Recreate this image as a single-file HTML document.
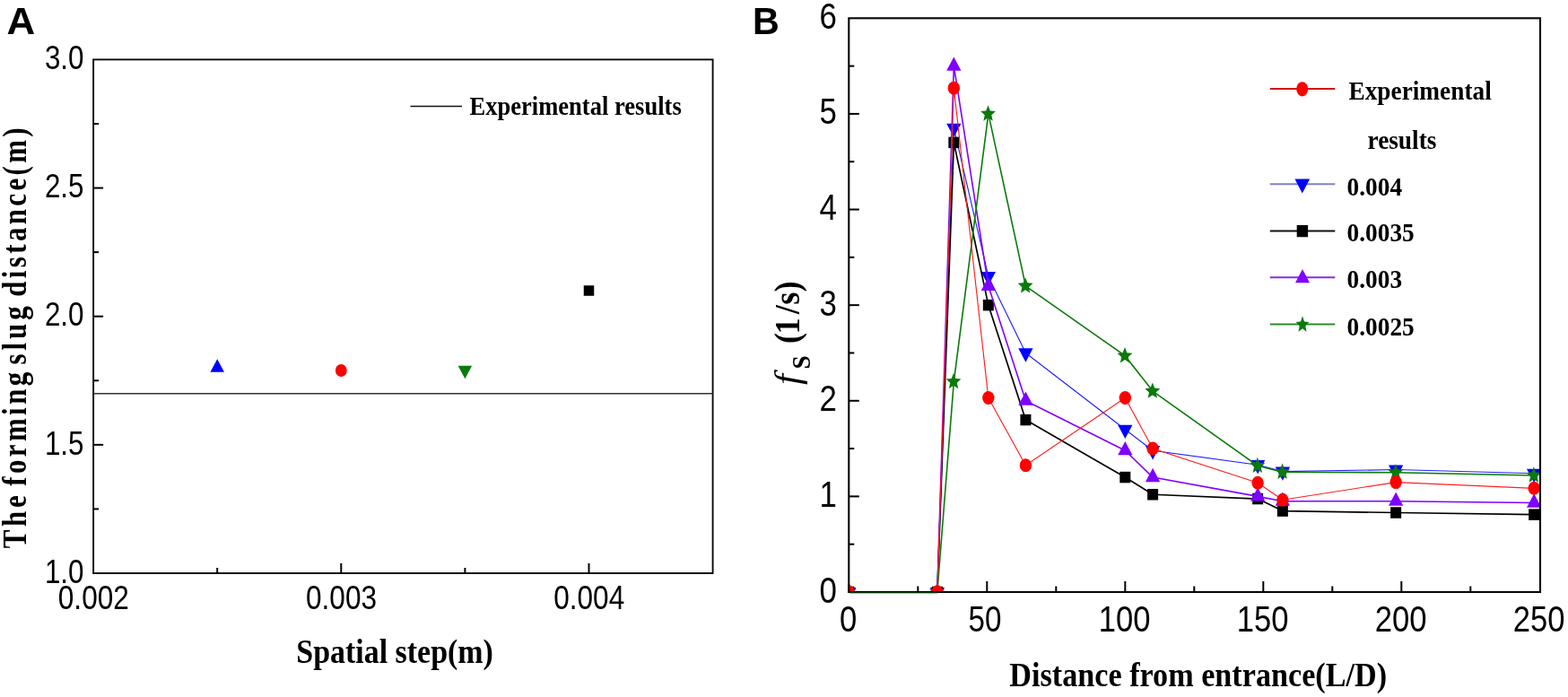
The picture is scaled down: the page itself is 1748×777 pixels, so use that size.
<!DOCTYPE html>
<html lang="en"><head><meta charset="utf-8"><title>Figure</title>
<style>html,body{margin:0;padding:0;background:#fff;overflow:hidden}svg{display:block}</style>
</head><body>
<svg width="1748" height="777" viewBox="0 0 1748 777">
<rect width="1748" height="777" fill="#fff"/>
<rect x="104.1" y="66.4" width="690.50" height="572.60" fill="none" stroke="#0a0a0a" stroke-width="1.9"/>
<text transform="translate(93.50,649.70) scale(0.8550,1)" font-family='"Liberation Sans", Arial, sans-serif' font-size="36.7" font-weight="normal" font-style="normal" text-anchor="end" fill="#000" >1.0</text>
<line x1="104.10" y1="567.42" x2="110.10" y2="567.42" stroke="#000" stroke-width="2" stroke-linecap="butt"/>
<line x1="104.10" y1="495.85" x2="115.10" y2="495.85" stroke="#000" stroke-width="2" stroke-linecap="butt"/>
<text transform="translate(93.50,506.55) scale(0.8550,1)" font-family='"Liberation Sans", Arial, sans-serif' font-size="36.7" font-weight="normal" font-style="normal" text-anchor="end" fill="#000" >1.5</text>
<line x1="104.10" y1="424.27" x2="110.10" y2="424.27" stroke="#000" stroke-width="2" stroke-linecap="butt"/>
<line x1="104.10" y1="352.70" x2="115.10" y2="352.70" stroke="#000" stroke-width="2" stroke-linecap="butt"/>
<text transform="translate(93.50,363.40) scale(0.8550,1)" font-family='"Liberation Sans", Arial, sans-serif' font-size="36.7" font-weight="normal" font-style="normal" text-anchor="end" fill="#000" >2.0</text>
<line x1="104.10" y1="281.12" x2="110.10" y2="281.12" stroke="#000" stroke-width="2" stroke-linecap="butt"/>
<line x1="104.10" y1="209.55" x2="115.10" y2="209.55" stroke="#000" stroke-width="2" stroke-linecap="butt"/>
<text transform="translate(93.50,220.25) scale(0.8550,1)" font-family='"Liberation Sans", Arial, sans-serif' font-size="36.7" font-weight="normal" font-style="normal" text-anchor="end" fill="#000" >2.5</text>
<line x1="104.10" y1="137.97" x2="110.10" y2="137.97" stroke="#000" stroke-width="2" stroke-linecap="butt"/>
<text transform="translate(93.50,77.10) scale(0.8550,1)" font-family='"Liberation Sans", Arial, sans-serif' font-size="36.7" font-weight="normal" font-style="normal" text-anchor="end" fill="#000" >3.0</text>
<line x1="242.20" y1="639.00" x2="242.20" y2="633.00" stroke="#000" stroke-width="2" stroke-linecap="butt"/>
<line x1="380.30" y1="639.00" x2="380.30" y2="628.00" stroke="#000" stroke-width="2" stroke-linecap="butt"/>
<line x1="518.40" y1="639.00" x2="518.40" y2="633.00" stroke="#000" stroke-width="2" stroke-linecap="butt"/>
<line x1="656.50" y1="639.00" x2="656.50" y2="628.00" stroke="#000" stroke-width="2" stroke-linecap="butt"/>
<text transform="translate(104.30,678.60) scale(0.8600,1)" font-family='"Liberation Sans", Arial, sans-serif' font-size="36.7" font-weight="normal" font-style="normal" text-anchor="middle" fill="#000" >0.002</text>
<text transform="translate(380.50,678.60) scale(0.8600,1)" font-family='"Liberation Sans", Arial, sans-serif' font-size="36.7" font-weight="normal" font-style="normal" text-anchor="middle" fill="#000" >0.003</text>
<text transform="translate(656.70,678.60) scale(0.8600,1)" font-family='"Liberation Sans", Arial, sans-serif' font-size="36.7" font-weight="normal" font-style="normal" text-anchor="middle" fill="#000" >0.004</text>
<line x1="104.10" y1="438.70" x2="794.60" y2="438.70" stroke="#333" stroke-width="1.6" stroke-linecap="butt"/>
<polygon points="242.20,400.33 249.95,414.83 234.45,414.83" fill="#0000ff"/>
<ellipse cx="380.30" cy="413.00" rx="6.4" ry="6.9" fill="#ff0000"/>
<polygon points="518.40,422.27 526.15,407.77 510.65,407.77" fill="#0a7a0a"/>
<rect x="650.75" y="318.25" width="11.5" height="11.5" fill="#000000"/>
<line x1="457.50" y1="118.50" x2="515.00" y2="118.50" stroke="#111" stroke-width="1.5" stroke-linecap="butt"/>
<text transform="translate(523.50,128.30) scale(0.9160,1)" font-family='"Liberation Serif", "Times New Roman", serif' font-size="29" font-weight="bold" font-style="normal" text-anchor="start" fill="#000" >Experimental results</text>
<text transform="translate(7.60,38.00) scale(1.0130,1)" font-family='"Liberation Sans", Arial, sans-serif' font-size="43.3" font-weight="bold" font-style="normal" text-anchor="start" fill="#000" >A</text>
<text transform="translate(330.30,738.90) scale(0.8930,1)" font-family='"Liberation Serif", "Times New Roman", serif' font-size="38" font-weight="bold" font-style="normal" text-anchor="start" fill="#000" >Spatial step(m)</text>
<text transform="translate(29.30,611.20) rotate(-90) scale(0.8240,1.0000)" font-family='"Liberation Serif", "Times New Roman", serif' font-size="37.5" font-weight="bold" text-anchor="start" fill="#000" textLength="71.48" lengthAdjust="spacing">The</text>
<text transform="translate(29.30,541.80) rotate(-90) scale(0.8240,1.0000)" font-family='"Liberation Serif", "Times New Roman", serif' font-size="37.5" font-weight="bold" text-anchor="start" fill="#000" textLength="154.13" lengthAdjust="spacing">forming</text>
<text transform="translate(29.30,406.40) rotate(-90) scale(0.8240,1.0000)" font-family='"Liberation Serif", "Times New Roman", serif' font-size="37.5" font-weight="bold" text-anchor="start" fill="#000" textLength="79.00" lengthAdjust="spacing">slug</text>
<text transform="translate(29.30,330.70) rotate(-90) scale(0.8240,1.0000)" font-family='"Liberation Serif", "Times New Roman", serif' font-size="37.5" font-weight="bold" text-anchor="start" fill="#000" textLength="228.52" lengthAdjust="spacing">distance(m)</text>
<clipPath id="cb"><rect x="945.3" y="20.3" width="772.7" height="640.7"/></clipPath>
<g clip-path="url(#cb)">
<polyline points="946.30,660.00 1044.86,660.00 1063.34,142.91 1101.84,308.16 1143.42,393.46 1254.30,478.75 1285.10,502.21 1402.14,518.20 1429.86,525.66 1556.14,523.53 1710.14,527.80" fill="none" stroke="#2020ff" stroke-width="1.15" stroke-linejoin="round"/>
<polygon points="946.30,670.20 954.45,654.90 938.15,654.90" fill="#0000ff"/>
<polygon points="1044.86,670.20 1053.01,654.90 1036.71,654.90" fill="#0000ff"/>
<polygon points="1063.34,153.11 1071.49,137.81 1055.19,137.81" fill="#0000ff"/>
<polygon points="1101.84,318.36 1109.99,303.06 1093.69,303.06" fill="#0000ff"/>
<polygon points="1143.42,403.66 1151.57,388.36 1135.27,388.36" fill="#0000ff"/>
<polygon points="1254.30,488.95 1262.45,473.65 1246.15,473.65" fill="#0000ff"/>
<polygon points="1285.10,512.41 1293.25,497.11 1276.95,497.11" fill="#0000ff"/>
<polygon points="1402.14,528.40 1410.29,513.10 1393.99,513.10" fill="#0000ff"/>
<polygon points="1429.86,535.86 1438.01,520.56 1421.71,520.56" fill="#0000ff"/>
<polygon points="1556.14,533.73 1564.29,518.43 1547.99,518.43" fill="#0000ff"/>
<polygon points="1710.14,538.00 1718.29,522.70 1701.99,522.70" fill="#0000ff"/>
<polyline points="946.30,660.00 1044.86,660.00 1063.34,158.90 1101.84,340.15 1143.42,468.09 1254.30,532.06 1285.10,551.25 1402.14,556.05 1429.86,569.59 1556.14,571.51 1710.14,573.64" fill="none" stroke="#000000" stroke-width="1.7" stroke-linejoin="round"/>
<rect x="940.30" y="653.75" width="12" height="12.5" fill="#000000"/>
<rect x="1038.86" y="653.75" width="12" height="12.5" fill="#000000"/>
<rect x="1057.34" y="152.65" width="12" height="12.5" fill="#000000"/>
<rect x="1095.84" y="333.90" width="12" height="12.5" fill="#000000"/>
<rect x="1137.42" y="461.84" width="12" height="12.5" fill="#000000"/>
<rect x="1248.30" y="525.81" width="12" height="12.5" fill="#000000"/>
<rect x="1279.10" y="545.00" width="12" height="12.5" fill="#000000"/>
<rect x="1396.14" y="549.80" width="12" height="12.5" fill="#000000"/>
<rect x="1423.86" y="563.34" width="12" height="12.5" fill="#000000"/>
<rect x="1550.14" y="565.26" width="12" height="12.5" fill="#000000"/>
<rect x="1704.14" y="567.39" width="12" height="12.5" fill="#000000"/>
<polyline points="946.30,660.00 1044.86,660.00 1063.34,73.61 1101.84,318.83 1143.42,446.77 1254.30,502.21 1285.10,532.06 1402.14,553.38 1429.86,558.71 1556.14,558.71 1710.14,560.53" fill="none" stroke="#7f00ff" stroke-width="1.6" stroke-linejoin="round"/>
<polygon points="946.30,649.80 954.45,665.10 938.15,665.10" fill="#7f00ff"/>
<polygon points="1044.86,649.80 1053.01,665.10 1036.71,665.10" fill="#7f00ff"/>
<polygon points="1063.34,63.41 1071.49,78.71 1055.19,78.71" fill="#7f00ff"/>
<polygon points="1101.84,308.63 1109.99,323.93 1093.69,323.93" fill="#7f00ff"/>
<polygon points="1143.42,436.57 1151.57,451.87 1135.27,451.87" fill="#7f00ff"/>
<polygon points="1254.30,492.01 1262.45,507.31 1246.15,507.31" fill="#7f00ff"/>
<polygon points="1285.10,521.86 1293.25,537.16 1276.95,537.16" fill="#7f00ff"/>
<polygon points="1402.14,543.18 1410.29,558.48 1393.99,558.48" fill="#7f00ff"/>
<polygon points="1429.86,548.51 1438.01,563.81 1421.71,563.81" fill="#7f00ff"/>
<polygon points="1556.14,548.51 1564.29,563.81 1547.99,563.81" fill="#7f00ff"/>
<polygon points="1710.14,550.33 1718.29,565.63 1701.99,565.63" fill="#7f00ff"/>
<polyline points="946.30,660.00 1044.86,660.00 1063.34,425.44 1101.84,126.92 1143.42,318.83 1254.30,396.66 1285.10,436.11 1402.14,519.27 1429.86,526.20 1556.14,526.73 1710.14,529.93" fill="none" stroke="#0a7a0a" stroke-width="1.6" stroke-linejoin="round"/>
<polygon points="946.00,650.40 948.34,656.51 954.40,657.03 949.78,661.33 951.19,667.77 946.00,664.32 940.81,667.77 942.22,661.33 937.60,657.03 943.66,656.51" fill="#0a7a0a"/>
<polygon points="1044.56,650.40 1046.90,656.51 1052.96,657.03 1048.34,661.33 1049.75,667.77 1044.56,664.32 1039.37,667.77 1040.78,661.33 1036.16,657.03 1042.22,656.51" fill="#0a7a0a"/>
<polygon points="1063.04,415.84 1065.38,421.95 1071.44,422.48 1066.82,426.78 1068.23,433.21 1063.04,429.76 1057.85,433.21 1059.26,426.78 1054.64,422.48 1060.70,421.95" fill="#0a7a0a"/>
<polygon points="1101.54,117.32 1103.88,123.42 1109.94,123.95 1105.32,128.25 1106.73,134.68 1101.54,131.24 1096.35,134.68 1097.76,128.25 1093.14,123.95 1099.20,123.42" fill="#0a7a0a"/>
<polygon points="1143.12,309.23 1145.46,315.33 1151.52,315.86 1146.90,320.16 1148.31,326.59 1143.12,323.15 1137.93,326.59 1139.34,320.16 1134.72,315.86 1140.78,315.33" fill="#0a7a0a"/>
<polygon points="1254.00,387.06 1256.34,393.16 1262.40,393.69 1257.78,397.99 1259.19,404.42 1254.00,400.98 1248.81,404.42 1250.22,397.99 1245.60,393.69 1251.66,393.16" fill="#0a7a0a"/>
<polygon points="1284.80,426.50 1287.14,432.61 1293.20,433.14 1288.58,437.44 1289.99,443.87 1284.80,440.43 1279.61,443.87 1281.02,437.44 1276.40,433.14 1282.46,432.61" fill="#0a7a0a"/>
<polygon points="1401.84,509.67 1404.18,515.77 1410.24,516.30 1405.62,520.60 1407.03,527.03 1401.84,523.59 1396.65,527.03 1398.06,520.60 1393.44,516.30 1399.50,515.77" fill="#0a7a0a"/>
<polygon points="1429.56,516.60 1431.90,522.70 1437.96,523.23 1433.34,527.53 1434.75,533.96 1429.56,530.52 1424.37,533.96 1425.78,527.53 1421.16,523.23 1427.22,522.70" fill="#0a7a0a"/>
<polygon points="1555.84,517.13 1558.18,523.23 1564.24,523.76 1559.62,528.06 1561.03,534.50 1555.84,531.05 1550.65,534.50 1552.06,528.06 1547.44,523.76 1553.50,523.23" fill="#0a7a0a"/>
<polygon points="1709.84,520.33 1712.18,526.43 1718.24,526.96 1713.62,531.26 1715.03,537.69 1709.84,534.25 1704.65,537.69 1706.06,531.26 1701.44,526.96 1707.50,526.43" fill="#0a7a0a"/>
<polyline points="946.30,660.00 1044.86,660.00 1063.34,98.13 1101.84,443.57 1143.42,518.73 1254.30,443.57 1285.10,500.07 1402.14,538.24 1429.86,557.22 1556.14,537.60 1710.14,544.32" fill="none" stroke="#ff2020" stroke-width="1.15" stroke-linejoin="round"/>
<ellipse cx="946.30" cy="660.00" rx="6.7" ry="7.5" fill="#ff0000"/>
<ellipse cx="1044.86" cy="660.00" rx="6.7" ry="7.5" fill="#ff0000"/>
<ellipse cx="1063.34" cy="98.13" rx="6.7" ry="7.5" fill="#ff0000"/>
<ellipse cx="1101.84" cy="443.57" rx="6.7" ry="7.5" fill="#ff0000"/>
<ellipse cx="1143.42" cy="518.73" rx="6.7" ry="7.5" fill="#ff0000"/>
<ellipse cx="1254.30" cy="443.57" rx="6.7" ry="7.5" fill="#ff0000"/>
<ellipse cx="1285.10" cy="500.07" rx="6.7" ry="7.5" fill="#ff0000"/>
<ellipse cx="1402.14" cy="538.24" rx="6.7" ry="7.5" fill="#ff0000"/>
<ellipse cx="1429.86" cy="557.22" rx="6.7" ry="7.5" fill="#ff0000"/>
<ellipse cx="1556.14" cy="537.60" rx="6.7" ry="7.5" fill="#ff0000"/>
<ellipse cx="1710.14" cy="544.32" rx="6.7" ry="7.5" fill="#ff0000"/>
</g>
<rect x="946.3" y="20.3" width="770.70" height="639.70" fill="none" stroke="#050505" stroke-width="2.1"/>
<text transform="translate(933.00,671.50) scale(0.8500,1)" font-family='"Liberation Sans", Arial, sans-serif' font-size="41" font-weight="normal" font-style="normal" text-anchor="end" fill="#000" >0</text>
<line x1="946.30" y1="606.69" x2="952.30" y2="606.69" stroke="#000" stroke-width="2" stroke-linecap="butt"/>
<line x1="946.30" y1="553.38" x2="957.80" y2="553.38" stroke="#000" stroke-width="2" stroke-linecap="butt"/>
<text transform="translate(933.00,564.88) scale(0.8500,1)" font-family='"Liberation Sans", Arial, sans-serif' font-size="41" font-weight="normal" font-style="normal" text-anchor="end" fill="#000" >1</text>
<line x1="946.30" y1="500.07" x2="952.30" y2="500.07" stroke="#000" stroke-width="2" stroke-linecap="butt"/>
<line x1="946.30" y1="446.77" x2="957.80" y2="446.77" stroke="#000" stroke-width="2" stroke-linecap="butt"/>
<text transform="translate(933.00,458.27) scale(0.8500,1)" font-family='"Liberation Sans", Arial, sans-serif' font-size="41" font-weight="normal" font-style="normal" text-anchor="end" fill="#000" >2</text>
<line x1="946.30" y1="393.46" x2="952.30" y2="393.46" stroke="#000" stroke-width="2" stroke-linecap="butt"/>
<line x1="946.30" y1="340.15" x2="957.80" y2="340.15" stroke="#000" stroke-width="2" stroke-linecap="butt"/>
<text transform="translate(933.00,351.65) scale(0.8500,1)" font-family='"Liberation Sans", Arial, sans-serif' font-size="41" font-weight="normal" font-style="normal" text-anchor="end" fill="#000" >3</text>
<line x1="946.30" y1="286.84" x2="952.30" y2="286.84" stroke="#000" stroke-width="2" stroke-linecap="butt"/>
<line x1="946.30" y1="233.53" x2="957.80" y2="233.53" stroke="#000" stroke-width="2" stroke-linecap="butt"/>
<text transform="translate(933.00,245.03) scale(0.8500,1)" font-family='"Liberation Sans", Arial, sans-serif' font-size="41" font-weight="normal" font-style="normal" text-anchor="end" fill="#000" >4</text>
<line x1="946.30" y1="180.22" x2="952.30" y2="180.22" stroke="#000" stroke-width="2" stroke-linecap="butt"/>
<line x1="946.30" y1="126.92" x2="957.80" y2="126.92" stroke="#000" stroke-width="2" stroke-linecap="butt"/>
<text transform="translate(933.00,138.42) scale(0.8500,1)" font-family='"Liberation Sans", Arial, sans-serif' font-size="41" font-weight="normal" font-style="normal" text-anchor="end" fill="#000" >5</text>
<line x1="946.30" y1="73.61" x2="952.30" y2="73.61" stroke="#000" stroke-width="2" stroke-linecap="butt"/>
<text transform="translate(933.00,31.80) scale(0.8500,1)" font-family='"Liberation Sans", Arial, sans-serif' font-size="41" font-weight="normal" font-style="normal" text-anchor="end" fill="#000" >6</text>
<text transform="translate(945.50,704.30) scale(0.8550,1)" font-family='"Liberation Sans", Arial, sans-serif' font-size="40.5" font-weight="normal" font-style="normal" text-anchor="middle" fill="#000" >0</text>
<line x1="1023.30" y1="660.00" x2="1023.30" y2="653.50" stroke="#000" stroke-width="2" stroke-linecap="butt"/>
<line x1="1100.30" y1="660.00" x2="1100.30" y2="648.00" stroke="#000" stroke-width="2" stroke-linecap="butt"/>
<text transform="translate(1098.00,704.30) scale(0.8200,1)" font-family='"Liberation Sans", Arial, sans-serif' font-size="40.5" font-weight="normal" font-style="normal" text-anchor="middle" fill="#000" >50</text>
<line x1="1177.30" y1="660.00" x2="1177.30" y2="653.50" stroke="#000" stroke-width="2" stroke-linecap="butt"/>
<line x1="1254.30" y1="660.00" x2="1254.30" y2="648.00" stroke="#000" stroke-width="2" stroke-linecap="butt"/>
<text transform="translate(1253.50,704.30) scale(0.8550,1)" font-family='"Liberation Sans", Arial, sans-serif' font-size="40.5" font-weight="normal" font-style="normal" text-anchor="middle" fill="#000" >100</text>
<line x1="1331.30" y1="660.00" x2="1331.30" y2="653.50" stroke="#000" stroke-width="2" stroke-linecap="butt"/>
<line x1="1408.30" y1="660.00" x2="1408.30" y2="648.00" stroke="#000" stroke-width="2" stroke-linecap="butt"/>
<text transform="translate(1407.50,704.30) scale(0.8550,1)" font-family='"Liberation Sans", Arial, sans-serif' font-size="40.5" font-weight="normal" font-style="normal" text-anchor="middle" fill="#000" >150</text>
<line x1="1485.30" y1="660.00" x2="1485.30" y2="653.50" stroke="#000" stroke-width="2" stroke-linecap="butt"/>
<line x1="1562.30" y1="660.00" x2="1562.30" y2="648.00" stroke="#000" stroke-width="2" stroke-linecap="butt"/>
<text transform="translate(1561.50,704.30) scale(0.8550,1)" font-family='"Liberation Sans", Arial, sans-serif' font-size="40.5" font-weight="normal" font-style="normal" text-anchor="middle" fill="#000" >200</text>
<line x1="1639.30" y1="660.00" x2="1639.30" y2="653.50" stroke="#000" stroke-width="2" stroke-linecap="butt"/>
<text transform="translate(1715.50,704.30) scale(0.8550,1)" font-family='"Liberation Sans", Arial, sans-serif' font-size="40.5" font-weight="normal" font-style="normal" text-anchor="middle" fill="#000" >250</text>
<line x1="947.30" y1="660.90" x2="1044.86" y2="660.90" stroke="#0a5a0a" stroke-width="0.9" stroke-linecap="butt"/>
<line x1="1415.80" y1="99.00" x2="1488.30" y2="99.00" stroke="#cc1414" stroke-width="1.9" stroke-linecap="butt"/>
<line x1="1415.80" y1="205.30" x2="1488.30" y2="205.30" stroke="#8080c8" stroke-width="1.9" stroke-linecap="butt"/>
<line x1="1415.80" y1="257.50" x2="1488.30" y2="257.50" stroke="#111111" stroke-width="1.9" stroke-linecap="butt"/>
<line x1="1415.80" y1="309.30" x2="1488.30" y2="309.30" stroke="#8a2be2" stroke-width="1.9" stroke-linecap="butt"/>
<line x1="1415.80" y1="361.50" x2="1488.30" y2="361.50" stroke="#2e8b2e" stroke-width="1.9" stroke-linecap="butt"/>
<ellipse cx="1451.70" cy="99.30" rx="6.5" ry="8.1" fill="#ff0000"/>
<polygon points="1451.80,215.57 1460.15,199.57 1443.45,199.57" fill="#0000ff"/>
<rect x="1445.70" y="250.95" width="12.4" height="13.3" fill="#000000"/>
<polygon points="1452.00,299.97 1460.00,315.17 1444.00,315.17" fill="#7f00ff"/>
<polygon points="1452.00,352.30 1454.03,358.41 1459.30,358.93 1455.29,363.23 1456.51,369.67 1452.00,366.22 1447.49,369.67 1448.71,363.23 1444.70,358.93 1449.97,358.41" fill="#0a7a0a"/>
<text transform="translate(1503.50,110.90) scale(0.9200,1)" font-family='"Liberation Serif", "Times New Roman", serif' font-size="29.7" font-weight="bold" font-style="normal" text-anchor="start" fill="#000" >Experimental</text>
<text transform="translate(1524.50,166.00) scale(0.9200,1)" font-family='"Liberation Serif", "Times New Roman", serif' font-size="29.7" font-weight="bold" font-style="normal" text-anchor="start" fill="#000" >results</text>
<text transform="translate(1501.60,217.50) scale(0.9200,1)" font-family='"Liberation Serif", "Times New Roman", serif' font-size="29.7" font-weight="bold" font-style="normal" text-anchor="start" fill="#000" >0.004</text>
<text transform="translate(1501.60,269.10) scale(0.9200,1)" font-family='"Liberation Serif", "Times New Roman", serif' font-size="29.7" font-weight="bold" font-style="normal" text-anchor="start" fill="#000" >0.0035</text>
<text transform="translate(1501.60,321.20) scale(0.9200,1)" font-family='"Liberation Serif", "Times New Roman", serif' font-size="29.7" font-weight="bold" font-style="normal" text-anchor="start" fill="#000" >0.003</text>
<text transform="translate(1501.60,374.00) scale(0.9200,1)" font-family='"Liberation Serif", "Times New Roman", serif' font-size="29.7" font-weight="bold" font-style="normal" text-anchor="start" fill="#000" >0.0025</text>
<text transform="translate(838.90,38.00) scale(0.9520,1)" font-family='"Liberation Sans", Arial, sans-serif' font-size="43.3" font-weight="bold" font-style="normal" text-anchor="start" fill="#000" >B</text>
<text transform="translate(1125.30,764.90) scale(0.9000,1)" font-family='"Liberation Serif", "Times New Roman", serif' font-size="38" font-weight="bold" font-style="normal" text-anchor="start" fill="#000" >Distance from entrance(L/D)</text>
<text transform="translate(890.50,428.90) rotate(-90) scale(1.050,1)" x="0.00" y="0" font-family='"Liberation Serif", "Times New Roman", serif' font-size="41" font-weight="normal" font-style="italic" fill="#000">f</text>
<text transform="translate(902.50,411.50) rotate(-90) scale(0.910,1)" x="0.00" y="0" font-family='"Liberation Serif", "Times New Roman", serif' font-size="30" font-weight="bold" font-style="normal" fill="#000">S</text>
<text transform="translate(890.50,383.10) rotate(-90) scale(0.880,1)" x="0.00 12.05 37.39 49.20 65.45" y="0" font-family='"Liberation Serif", "Times New Roman", serif' font-size="41" font-weight="bold" font-style="normal" fill="#000">(1/s)</text>
</svg>
</body></html>
